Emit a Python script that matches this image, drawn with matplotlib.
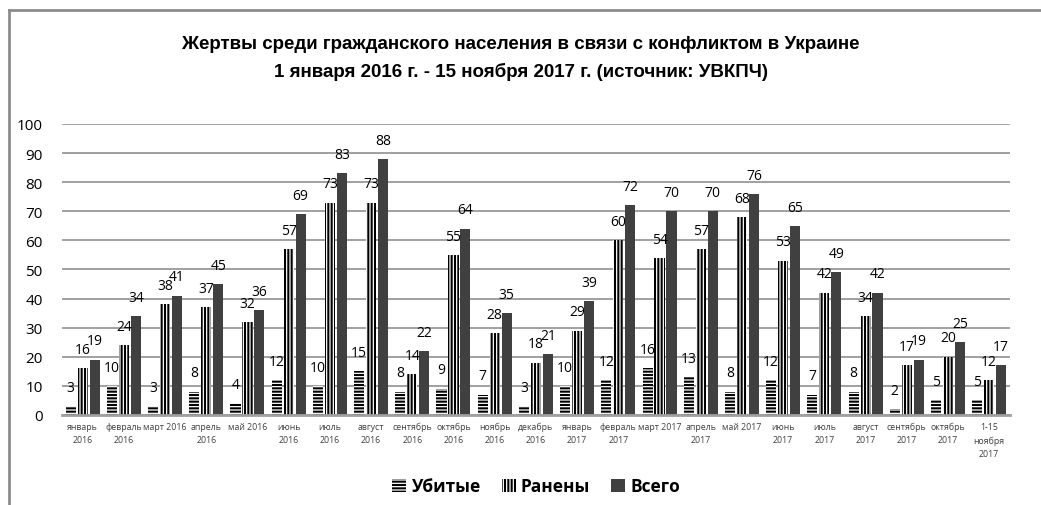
import matplotlib
matplotlib.use("Agg")
import matplotlib.pyplot as plt
from matplotlib import font_manager
from matplotlib.lines import Line2D
import numpy as np

# data
months = ["январь\n2016", "февраль\n2016", "март 2016", "апрель\n2016", "май 2016",
          "июнь\n2016", "июль\n2016", "август\n2016", "сентябрь\n2016", "октябрь\n2016",
          "ноябрь\n2016", "декабрь\n2016", "январь\n2017", "февраль\n2017", "март 2017",
          "апрель\n2017", "май 2017", "июнь\n2017", "июль\n2017", "август\n2017",
          "сентябрь\n2017", "октябрь\n2017", "1-15\nноября\n2017"]
killed = [3, 10, 3, 8, 4, 12, 10, 15, 8, 9, 7, 3, 10, 12, 16, 13, 8, 12, 7, 8, 2, 5, 5]
injured = [16, 24, 38, 37, 32, 57, 73, 73, 14, 55, 28, 18, 29, 60, 54, 57, 68, 53, 42, 34, 17, 20, 12]
total = [19, 34, 41, 45, 36, 69, 83, 88, 22, 64, 35, 21, 39, 72, 70, 70, 76, 65, 49, 42, 19, 25, 17]
yticks = [0, 10, 20, 30, 40, 50, 60, 70, 80, 90, 100]

title = ("Жертвы среди гражданского населения в связи с конфликтом в Украине\n"
         "1 января 2016 г. - 15 ноября 2017 г. (источник: УВКПЧ)")

installed = {f.name for f in font_manager.fontManager.ttflist}
narrow = "Liberation Sans Narrow" if "Liberation Sans Narrow" in installed else "Liberation Sans"
plt.rcParams["font.family"] = ["Open Sans", "DejaVu Sans"]
plt.rcParams["hatch.linewidth"] = 1.5

fig = plt.figure(figsize=(10.41, 5.06), dpi=100)
ax = fig.add_axes([0.0596, 0.178, 0.9104, 0.575])

x = np.arange(len(months))
step = 0.29
bw = 0.245
dark = "#404040"

b1 = ax.bar(x - step, killed, bw, facecolor="white", edgecolor="black",
            hatch="-----", linewidth=0, zorder=3)
b2 = ax.bar(x, injured, bw, facecolor="white", edgecolor="black",
            hatch="|||||", linewidth=0, zorder=3)
b3 = ax.bar(x + step, total, bw, color=dark, linewidth=0, zorder=3)

for bars, vals in ((b1, killed), (b2, injured), (b3, total)):
    for rect, v in zip(bars, vals):
        ax.annotate(str(v), (rect.get_x() + rect.get_width() / 2, v),
                    xytext=(0, 13.5), textcoords="offset points",
                    ha="center", va="center", fontsize=10, color="black", zorder=4)

ax.set_xlim(-0.5, len(months) - 0.5)
ax.set_ylim(0, 100)
ax.set_yticks(yticks)
ax.set_xticks(x)
ax.set_xticklabels(months, fontsize=6.3, color="#404040", linespacing=1.6)
ax.tick_params(axis="y", length=0, pad=14, labelsize=11)
ax.tick_params(axis="x", length=0, pad=5)
ax.grid(axis="y", color="#a0a0a0", linewidth=1.4, zorder=0)
for s in ("left", "right", "top"):
    ax.spines[s].set_visible(False)
ax.spines["bottom"].set_color("#a0a0a0")
ax.spines["bottom"].set_linewidth(2)
ax.spines["bottom"].set_zorder(5)

fig.text(0.5, 0.885, title, ha="center", va="center", fontsize=13.5,
         fontweight="bold", family=[narrow, "DejaVu Sans"], linespacing=1.7)

leg = fig.legend([b1, b2, b3], ["Убитые", "Ранены", "Всего"], loc="center",
                 bbox_to_anchor=(0.515, 0.037), ncol=3, frameon=False,
                 prop={"weight": "bold", "size": 12.5},
                 handlelength=0.8, handleheight=0.8, handletextpad=0.3,
                 columnspacing=1.2)

# outer chart frame (cropped on the right and bottom)
fig.add_artist(Line2D([9 / 1041, 1], [1 - 11 / 506, 1 - 11 / 506],
                      transform=fig.transFigure, color="#8c8c8c", linewidth=2))
fig.add_artist(Line2D([9 / 1041, 9 / 1041], [0, 1 - 11 / 506],
                      transform=fig.transFigure, color="#8c8c8c", linewidth=2))

fig.savefig("out.png", dpi=100)
